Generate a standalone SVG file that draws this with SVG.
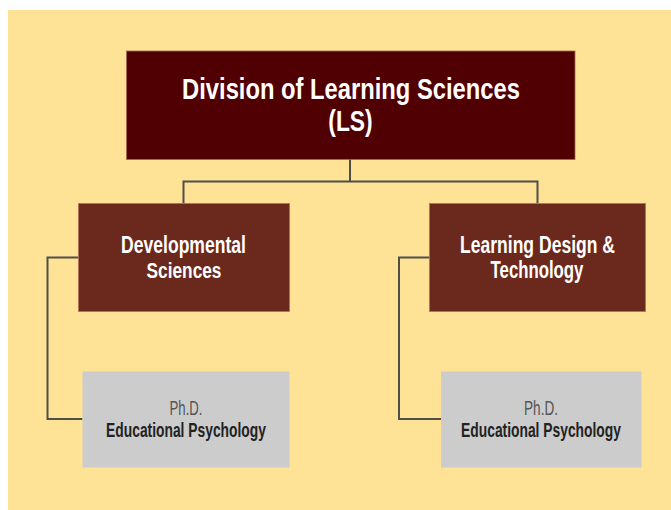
<svg xmlns="http://www.w3.org/2000/svg" width="671" height="510" viewBox="0 0 671 510">
<style>
text{font-family:"Liberation Sans",Arial,sans-serif;text-anchor:middle}
.t{font-weight:bold;fill:#fff}
.t1{font-size:30px}
.t2{font-size:23px}
.p{font-size:20px;fill:#555}
.e{font-size:20px;fill:#222;font-weight:bold}
.mid{fill:#6b291d;stroke:#b5715a;stroke-width:0.8}
.phd{fill:#cccccc}
.c{fill:none;stroke:#4f4f4a;stroke-width:2}
</style>
<rect x="8" y="10" width="663" height="500" fill="#fee296"/>
<g id="connectors">
<path class="c" d="M350 159V181.5H183.5V203.5M537.5 203.5V181.5H350"/>
<path class="c" d="M78.5 257.5H47.5V419H82.5"/>
<path class="c" d="M429.5 257.5H399V419H441"/>
</g>
<g id="ls">
<rect x="126.5" y="51" width="448.5" height="108.5" fill="#500002" stroke="#a26a4a" stroke-width="0.8"/>
<text class="t t1" transform="translate(351,99) scale(0.792,1)">Division of Learning Sciences</text>
<text class="t t1" transform="translate(350.5,131) scale(0.763,1)">(LS)</text>
</g>
<g id="devsci">
<rect class="mid" x="78.5" y="203.5" width="211" height="108"/>
<text class="t t2" transform="translate(183.5,253.3) scale(0.764,1)">Developmental</text>
<text class="t t2" transform="translate(184,278) scale(0.752,1)">Sciences</text>
</g>
<g id="ldt">
<rect class="mid" x="429.5" y="203.5" width="216" height="108"/>
<text class="t t2" transform="translate(537.5,253.3) scale(0.763,1)">Learning Design &amp;</text>
<text class="t t2" transform="translate(537,278) scale(0.73,1)">Technology</text>
</g>
<g id="phd1">
<rect class="phd" x="82.5" y="371.5" width="207" height="96"/>
<text class="p" transform="translate(186,415) scale(0.66,1)">Ph.D.</text>
<text class="e" transform="translate(186,437) scale(0.692,1)">Educational Psychology</text>
</g>
<g id="phd2">
<rect class="phd" x="441" y="371.5" width="200.5" height="96"/>
<text class="p" transform="translate(541,415) scale(0.68,1)">Ph.D.</text>
<text class="e" transform="translate(541,437) scale(0.692,1)">Educational Psychology</text>
</g>
</svg>
